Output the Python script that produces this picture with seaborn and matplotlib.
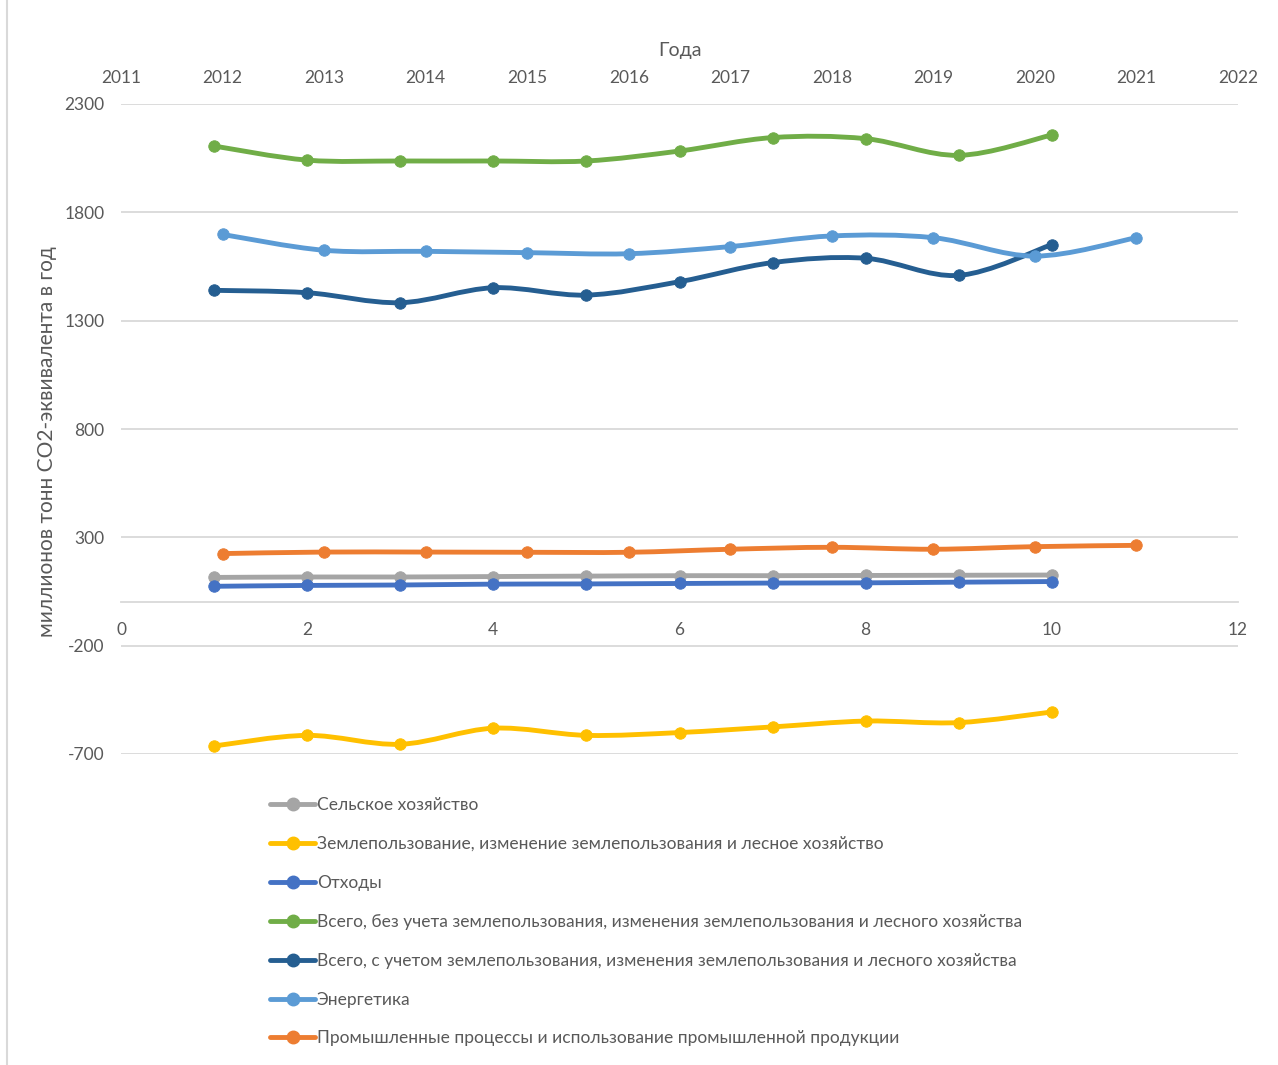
import numpy as np
import matplotlib
matplotlib.use('Agg')
import matplotlib.pyplot as plt
import seaborn as sns
from matplotlib.path import Path
from matplotlib.patches import PathPatch
from matplotlib.lines import Line2D

# ряды по нижней оси (1..10)
idx = [1, 2, 3, 4, 5, 6, 7, 8, 9, 10]
agriculture = [115, 117, 117, 119, 121, 123, 123, 124, 125, 126]
landuse = [-663, -614, -655, -581, -614, -601, -575, -548, -555, -506]
waste = [74, 78, 80, 84, 85, 87, 89, 90, 93, 96]
total_without = [2106, 2041, 2037, 2037, 2037, 2083, 2145, 2140, 2063, 2157]
total_with = [1440, 1429, 1383, 1452, 1418, 1480, 1568, 1588, 1509, 1651]

# ряды по верхней оси (годы)
years = [2012, 2013, 2014, 2015, 2016, 2017, 2018, 2019, 2020, 2021]
energy = [1698, 1625, 1620, 1614, 1609, 1642, 1691, 1683, 1598, 1683]
industry = [225, 232, 232, 231, 231, 245, 254, 245, 257, 263]

labels = [
    'Сельское хозяйство',
    'Землепользование, изменение землепользования и лесное хозяйство',
    'Отходы',
    'Всего, без учета землепользования, изменения землепользования и лесного хозяйства',
    'Всего, с учетом землепользования, изменения землепользования и лесного хозяйства',
    'Энергетика',
    'Промышленные процессы и использование промышленной продукции',
]
colors = ['#A5A5A5', '#FFC000', '#4472C4', '#70AD47', '#255E91', '#5B9BD5', '#ED7D31']

y_ticks = [-700, -200, 300, 800, 1300, 1800, 2300]
x_ticks = [0, 2, 4, 6, 8, 10, 12]
year_ticks = list(range(2011, 2023))

sns.set_theme(style='white')
plt.rcParams['font.family'] = ['Lato', 'DejaVu Sans']
plt.rcParams['axes.unicode_minus'] = False
TXT = '#595959'
GRID = '#D9D9D9'
LW = 3.5


def smooth_path(x, y):
    # сглаживание как в Excel (кривые Безье через точки)
    pts = np.column_stack([x, y]).astype(float)
    verts = [pts[0]]
    codes = [Path.MOVETO]
    n = len(pts)
    for i in range(n - 1):
        p0 = pts[i - 1] if i > 0 else pts[i]
        p1 = pts[i]
        p2 = pts[i + 1]
        p3 = pts[i + 2] if i + 2 < n else pts[i + 1]
        verts += [p1 + (p2 - p0) / 6, p2 - (p3 - p1) / 6, p2]
        codes += [Path.CURVE4] * 3
    return Path(verts, codes)


def draw_series(axis, x, y, color, z):
    axis.add_patch(PathPatch(smooth_path(x, y), facecolor='none', edgecolor=color,
                             lw=LW, capstyle='round', joinstyle='round', zorder=z))
    sns.scatterplot(x=x, y=y, color=color, edgecolor=color, s=68, ax=axis, zorder=z + 0.5,
                    legend=False)


fig = plt.figure(figsize=(12.78, 10.65), dpi=100)
ax = fig.add_axes([121 / 1278, 1 - 754 / 1065, (1238 - 121) / 1278, (754 - 104) / 1065])
ax2 = ax.twiny()

ax.set_xlim(0, 12)
ax.set_ylim(-700, 2300)
ax2.set_xlim(2011, 2022)

bottom_series = [agriculture, landuse, waste, total_without, total_with]
for k, vals in enumerate(bottom_series):
    draw_series(ax, idx, vals, colors[k], 3 + k)
draw_series(ax2, years, energy, colors[5], 10)
draw_series(ax2, years, industry, colors[6], 12)

ax.set_yticks(y_ticks)
ax.set_xticks(x_ticks)
ax2.set_xticks(year_ticks)
for yv in y_ticks:
    if yv != 0:
        ax.axhline(yv, color=GRID, lw=1.3, zorder=1)

for s in ['top', 'left', 'right']:
    ax.spines[s].set_visible(False)
    ax2.spines[s].set_visible(False)
ax2.spines['bottom'].set_visible(False)
ax.spines['bottom'].set_position(('data', 0))
ax.spines['bottom'].set_color(GRID)
ax.spines['bottom'].set_linewidth(1.3)

ax.tick_params(axis='y', length=0, pad=12, labelsize=12.5, labelcolor=TXT)
ax.tick_params(axis='x', length=0, pad=14, labelsize=12.5, labelcolor=TXT)
ax2.tick_params(axis='x', length=0, pad=13, labelsize=12.5, labelcolor=TXT)

ax2.set_xlabel('Года', fontsize=14, color=TXT, labelpad=10)
ax2.xaxis.set_label_position('top')
ax.set_ylabel('миллионов тонн СО2-эквивалента в год', fontsize=15, color=TXT)
ax.yaxis.set_label_coords(-0.057, 0.48)

handles = [Line2D([0], [0], color=c, lw=LW, marker='o', markersize=9) for c in colors]
ax.legend(handles, labels, loc='upper left', bbox_to_anchor=(270 / 1278, 1 - 797 / 1065),
          bbox_transform=fig.transFigure, frameon=False, fontsize=12.5, labelcolor=TXT,
          handlelength=2.6, handletextpad=0.1, labelspacing=1.32, borderpad=0,
          borderaxespad=0)

# рамка области диаграммы слева
fig.add_artist(Line2D([7 / 1278, 7 / 1278], [0, 1], color=GRID, lw=1.5,
                      transform=fig.transFigure))

fig.savefig('out.png', dpi=100)
